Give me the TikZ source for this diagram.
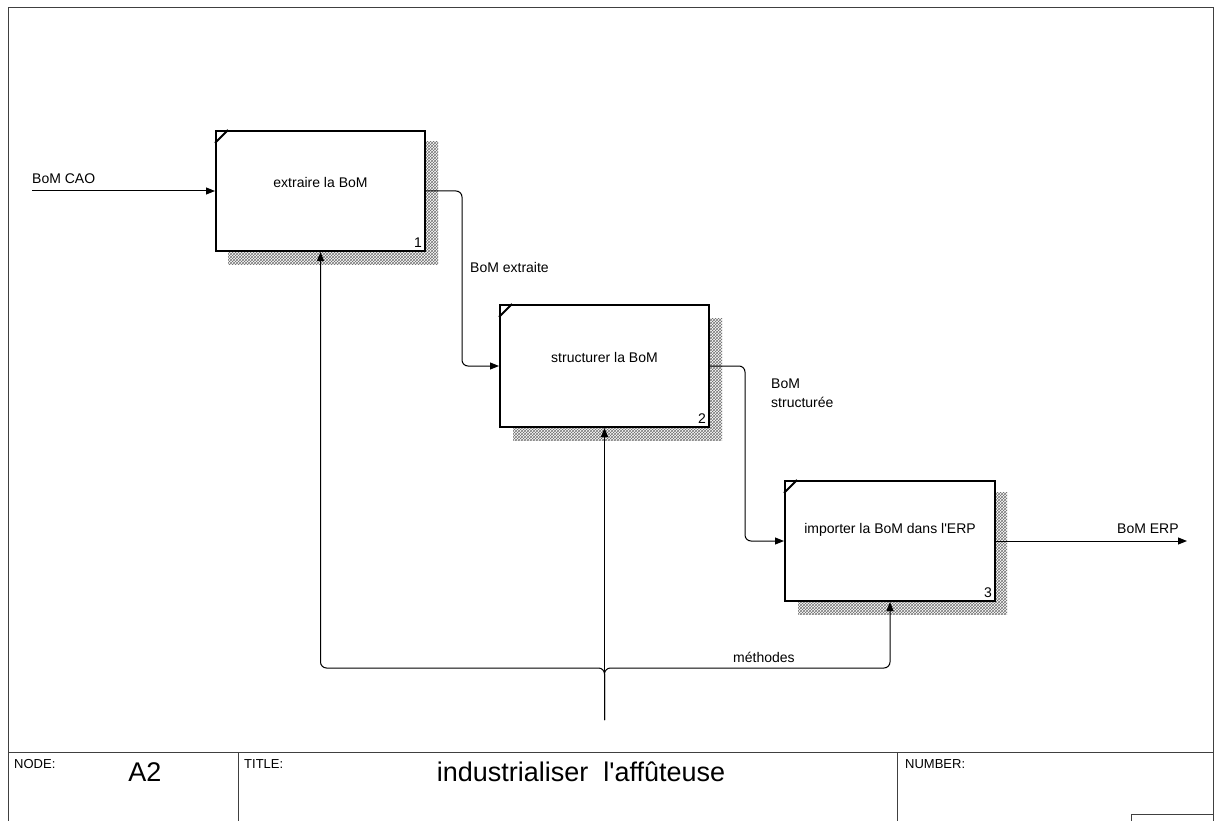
\documentclass[tikz,border=0pt]{standalone}
\usepackage{fontspec}
\setmainfont{Liberation Sans}
\usetikzlibrary{arrows.meta,patterns}
\begin{document}
\begin{tikzpicture}[x=1pt,y=-1pt,
  frame/.style={draw=black!75,line width=1pt},
  fn/.style={draw=black,line width=2pt,fill=white,rectangle,inner sep=0pt},
  shadow/.style={pattern=crosshatch,pattern color=black!55},
  conn/.style={draw=black,line width=1pt,-{Triangle[length=9pt,width=7pt]}},
  lbl/.style={font=\fontsize{14}{19}\selectfont,inner sep=0pt},
  small/.style={font=\fontsize{13}{15}\selectfont,inner sep=0pt},
  big/.style={font=\fontsize{27}{30}\selectfont,inner sep=0pt},
  tick/.style={draw=black,line width=1.8pt}
]
\useasboundingbox (0,0) rectangle (1215,821);
% frame and title block
\draw[frame] (8,821) -- (8,8) -- (1213,8) -- (1213,821);
\draw[frame] (8,752) -- (1213,752);
\draw[frame] (238,752) -- (238,821);
\draw[frame] (897,752) -- (897,821);
\draw[frame] (1131,821) -- (1131,814) -- (1213,814);
\node[small,anchor=north west] (nodelbl) at (14,759) {NODE:};
\node[big] (nodeval) at (145,772) {A2};
\node[small,anchor=north west] (titlelbl) at (244,759) {TITLE:};
\node[big] (titleval) at (581,772) {industrialiser\ \ l\textquotesingle affûteuse};
\node[small,anchor=north west] (numlbl) at (905,759) {NUMBER:};
% shadows
\fill[shadow] (228,142) rectangle (438,264);
\fill[shadow] (513,318) rectangle (722,440);
\fill[shadow] (798,492) rectangle (1007,614);
% boxes
\node[fn,minimum width=209pt,minimum height=120pt] (b1) at (320.5,191) {};
\node[fn,minimum width=209pt,minimum height=122pt] (b2) at (604.5,366) {};
\node[fn,minimum width=210pt,minimum height=120pt] (b3) at (890,541) {};
\foreach \b in {b1,b2,b3}{
  \draw[tick] ([yshift=-13pt]\b.north west) -- ([xshift=13pt]\b.north west);
}
\node[lbl] (t1) at ([yshift=9pt]b1.center) {extraire la BoM};
\node[lbl] (t2) at ([yshift=9pt]b2.center) {structurer la BoM};
\node[lbl] (t3) at ([yshift=11pt]b3.center) {importer la BoM dans l\textquotesingle ERP};
\node[lbl,anchor=south east] (n1) at ([xshift=-4pt,yshift=4pt]b1.south east) {1};
\node[lbl,anchor=south east] (n2) at ([xshift=-4pt,yshift=4pt]b2.south east) {2};
\node[lbl,anchor=south east] (n3) at ([xshift=-4pt,yshift=4pt]b3.south east) {3};
% connectors
\coordinate (in1) at (32,191);
\coordinate (c12) at (462,0);
\coordinate (c23) at (745,0);
\coordinate (out3) at (1187,541);
\coordinate (m) at (604.5,720);
\coordinate (mj) at (604.5,668);
\draw[conn] (in1) -- (b1.west);
\draw[conn,rounded corners=6pt] (b1.east) -| (c12 |- b2.west) -- (b2.west);
\draw[conn,rounded corners=6pt] (b2.east) -| (c23 |- b3.west) -- (b3.west);
\draw[conn] (b3.east) -- (out3);
\draw[conn] (m) -- (b2.south);
\draw[conn,rounded corners=6pt] (m) -- (mj) -| (b1.south);
\draw[conn,rounded corners=6pt] (m) -- (mj) -| (b3.south);
% labels
\node[lbl,anchor=base west] (l1) at (32,184) {BoM CAO};
\node[lbl,anchor=base west] (l2) at (470,272) {BoM extraite};
\node[lbl,anchor=north west,align=left] (l3) at (771,379) {BoM\\structurée};
\node[lbl,anchor=base west] (l4) at (1117,533) {BoM ERP};
\node[lbl,anchor=base west] (l5) at (733,662) {méthodes};
\end{tikzpicture}
\end{document}
